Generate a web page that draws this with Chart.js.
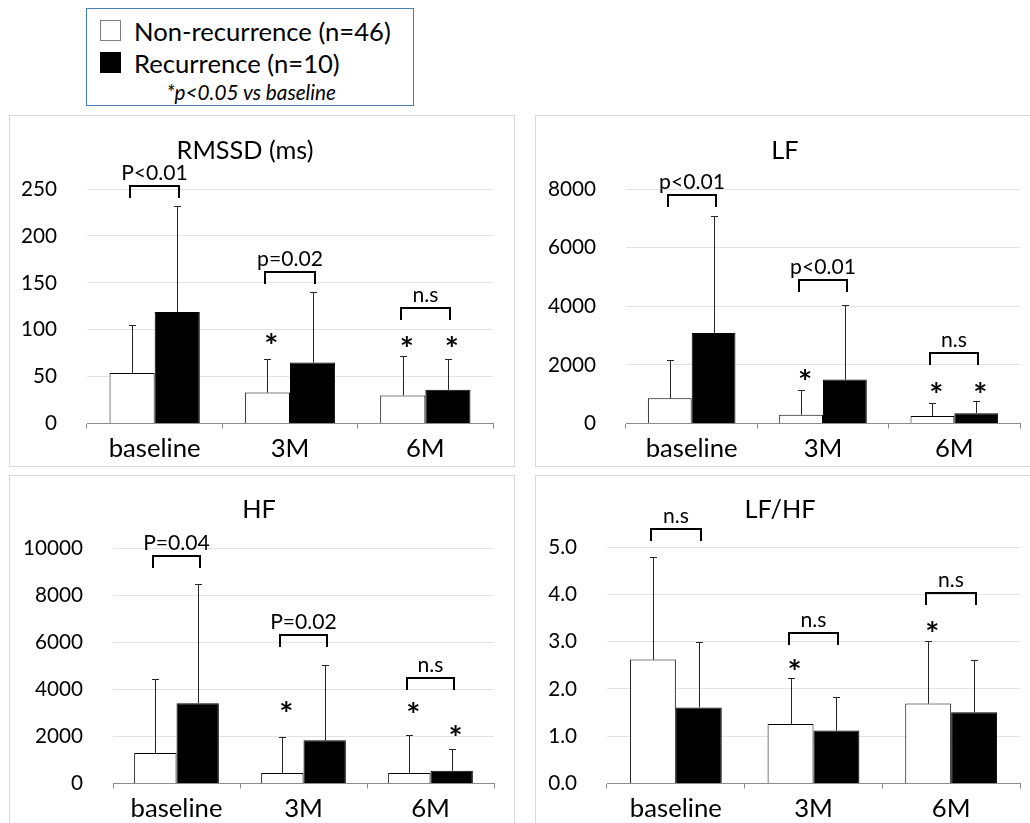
<!DOCTYPE html>
<html><head><meta charset="utf-8">
<script src="https://cdn.jsdelivr.net/npm/chart.js@4.4.0/dist/chart.umd.min.js"></script>
<style>
html,body{margin:0;padding:0;background:#fff;overflow:hidden;width:1030px;height:823px;position:relative;font-family:Lato,sans-serif;}
.panel{position:absolute;border:1px solid #d9d9d9;overflow:hidden;}
canvas{display:block;}
.abs{position:absolute;white-space:nowrap;color:#000;}
</style></head><body>
<script>
// ---------- data ----------
const categories = ['baseline', '3M', '6M'];
const seriesNames = ['Non-recurrence (n=46)', 'Recurrence (n=10)'];
const footnote = '*p<0.05 vs baseline';
const panelTitles = ['RMSSD (ms)', 'LF', 'HF', 'LF/HF'];

const rmssdNonRec   = [54, 33, 30];
const rmssdNonRecSD = [51, 36, 42];
const rmssdRec      = [119, 65, 36];
const rmssdRecSD    = [113, 75, 33];
const rmssdP        = ['P<0.01', 'p=0.02', 'n.s'];

const lfNonRec   = [860, 300, 255];
const lfNonRecSD = [1310, 830, 450];
const lfRec      = [3090, 1500, 355];
const lfRecSD    = [3990, 2535, 428];
const lfP        = ['p<0.01', 'p<0.01', 'n.s'];

const hfNonRec   = [1300, 445, 445];
const hfNonRecSD = [3150, 1520, 1630];
const hfRec      = [3415, 1840, 545];
const hfRecSD    = [5050, 3190, 905];
const hfP        = ['P=0.04', 'P=0.02', 'n.s'];

const ratioNonRec   = [2.62, 1.26, 1.69];
const ratioNonRecSD = [2.17, 0.97, 1.32];
const ratioRec      = [1.61, 1.12, 1.51];
const ratioRecSD    = [1.38, 0.71, 1.11];
const ratioP        = ['n.s', 'n.s', 'n.s'];

// significance vs baseline (*)
const rmssdStarNonRec = [false, true, true],  rmssdStarRec = [false, false, true];
const lfStarNonRec    = [false, true, true],  lfStarRec    = [false, false, true];
const hfStarNonRec    = [false, true, true],  hfStarRec    = [false, false, true];
const ratioStarNonRec = [false, true, true],  ratioStarRec = [false, false, false];

// y-axis ticks
const yMaxes = [250, 8000, 10000, 5];
const ySteps = [50, 2000, 2000, 1];
const yDecimals = [0, 0, 0, 1];

// ---------- layout (positions / styles) ----------
const panels = [
  { x: 9,   y: 115, w: 504, h: 350, area: {left: 77, right: 483, top: 73, bottom: 311}, title: [235, 43],
    bracketY: [253, 162, 123], starNonRecY: [null, 91, 88], starRecY: [null, null, 88] },
  { x: 535, y: 115, w: 505, h: 350, area: {left: 90, right: 484, top: 73, bottom: 311}, title: [249, 43],
    bracketY: [7810, 4895, 2405], starNonRecY: [null, 1700, 1250], starRecY: [null, null, 1250] },
  { x: 9,   y: 475, w: 504, h: 350, area: {left: 103, right: 484, top: 72, bottom: 311}, title: [249, 42],
    bracketY: [9680, 6300, 4490], starNonRecY: [null, 3305, 3235], starRecY: [null, null, 2285] },
  { x: 535, y: 475, w: 505, h: 350, area: {left: 71, right: 484, top: 71, bottom: 310}, title: [244, 41.5],
    bracketY: [5.38, 3.18, 4.02], starNonRecY: [null, 2.53, 3.34], starRecY: [null, null, null] }
];
const panelData = [
  { nr: rmssdNonRec, nrsd: rmssdNonRecSD, r: rmssdRec, rsd: rmssdRecSD, p: rmssdP, snr: rmssdStarNonRec, sr: rmssdStarRec },
  { nr: lfNonRec, nrsd: lfNonRecSD, r: lfRec, rsd: lfRecSD, p: lfP, snr: lfStarNonRec, sr: lfStarRec },
  { nr: hfNonRec, nrsd: hfNonRecSD, r: hfRec, rsd: hfRecSD, p: hfP, snr: hfStarNonRec, sr: hfStarRec },
  { nr: ratioNonRec, nrsd: ratioNonRecSD, r: ratioRec, rsd: ratioRecSD, p: ratioP, snr: ratioStarNonRec, sr: ratioStarRec }
];

const FONT = 'Lato';
const mctx = document.createElement('canvas').getContext('2d');
function fit(text, width, style) {
  mctx.font = (style || '') + ' 100px ' + FONT;
  return 100 * width / mctx.measureText(text).width;
}
const titleSize = fit('RMSSD (ms)', 137);
const xSize = fit('baseline', 92);
const ySize = fit('10000', 60);
const annSize = fit('P<0.01', 66.7);
const legSize = fit('Non-recurrence (n=46)', 257);
const noteSize = fit(footnote, 170, 'italic');
const starSize = (function () {
  mctx.font = 'bold 100px ' + FONT;
  const m = mctx.measureText('*');
  return 100 * 11 / (m.actualBoundingBoxLeft + m.actualBoundingBoxRight);
})();

// ---------- legend (HTML) ----------
function placeText(text, size, style, left, baseline, align) {
  mctx.font = (style || '') + ' ' + size + 'px ' + FONT;
  const m = mctx.measureText('Hg');
  const asc = m.fontBoundingBoxAscent, desc = m.fontBoundingBoxDescent;
  const el = document.createElement('div');
  el.className = 'abs';
  el.textContent = text;
  el.style.fontSize = size + 'px';
  el.style.fontStyle = style || 'normal';
  el.style.lineHeight = (asc + desc) + 'px';
  el.style.top = (baseline - asc) + 'px';
  if (align === 'center') {
    const w = mctx.measureText(text).width;
    el.style.left = (left - w / 2) + 'px';
  } else el.style.left = left + 'px';
  document.body.appendChild(el);
}
(function legend() {
  const box = document.createElement('div');
  box.className = 'abs';
  Object.assign(box.style, { left: '86px', top: '8px', width: '328px', height: '98px', boxSizing: 'border-box', border: '1.5px solid #4a7ebb' });
  document.body.appendChild(box);
  const sw = [['#fff', '#7f7f7f', 20], ['#000', '#000', 52]];
  sw.forEach(([bg, bc, top]) => {
    const s = document.createElement('div');
    s.className = 'abs';
    Object.assign(s.style, { left: '100px', top: top + 'px', width: '21px', height: '21px', boxSizing: 'border-box', background: bg, border: '1px solid ' + bc });
    document.body.appendChild(s);
  });
  placeText(seriesNames[0], legSize, '', 134, 41, 'left');
  placeText(seriesNames[1], legSize, '', 134, 73, 'left');
  placeText(footnote, noteSize, 'italic', 251.5, 99.5, 'center');
})();

// ---------- annotation plugin ----------
const annotPlugin = {
  id: 'annot',
  afterDatasetsDraw(chart, args, o) {
    const ctx = chart.ctx, ys = chart.scales.y;
    ctx.save();
    ctx.strokeStyle = '#262626';
    ctx.lineWidth = 1;
    chart.data.datasets.forEach((ds, di) => {
      const meta = chart.getDatasetMeta(di);
      meta.data.forEach((bar, i) => {
        const x = Math.round(bar.x) + 0.5;
        const top = Math.round(ys.getPixelForValue(ds.data[i] + ds.sd[i])) + 0.5;
        ctx.beginPath();
        ctx.moveTo(x, bar.y);
        ctx.lineTo(x, top);
        ctx.moveTo(x - 3.5, top);
        ctx.lineTo(x + 3.5, top);
        ctx.stroke();
      });
    });
    ctx.restore();
  },
  afterDraw(chart, args, o) {
    const ctx = chart.ctx, ys = chart.scales.y;
    const p = o.panel, d = o.data;
    ctx.save();
    ctx.fillStyle = '#000';
    // title
    ctx.font = titleSize + 'px ' + FONT;
    ctx.textAlign = 'center';
    ctx.textBaseline = 'alphabetic';
    ctx.fillText(o.title, p.title[0], p.title[1]);
    // brackets
    const m0 = chart.getDatasetMeta(0), m1 = chart.getDatasetMeta(1);
    ctx.strokeStyle = '#000';
    ctx.lineWidth = 2;
    ctx.lineJoin = 'miter';
    ctx.font = annSize + 'px ' + FONT;
    categories.forEach((c, i) => {
      const x1 = Math.round(m0.data[i].x) - 2, x2 = Math.round(m1.data[i].x) + 2;
      const yb = Math.round(ys.getPixelForValue(p.bracketY[i]));
      ctx.beginPath();
      ctx.moveTo(x1, yb + 12);
      ctx.lineTo(x1, yb);
      ctx.lineTo(x2, yb);
      ctx.lineTo(x2, yb + 12);
      ctx.stroke();
      ctx.fillText(d.p[i], (x1 + x2) / 2, yb - 6);
    });
    // stars
    ctx.font = 'bold ' + starSize + 'px ' + FONT;
    const sm = ctx.measureText('*');
    const off = (sm.actualBoundingBoxAscent - sm.actualBoundingBoxDescent) / 2;
    categories.forEach((c, i) => {
      if (d.snr[i]) ctx.fillText('*', m0.data[i].x + 4, ys.getPixelForValue(p.starNonRecY[i]) + off);
      if (d.sr[i]) ctx.fillText('*', m1.data[i].x + 4, ys.getPixelForValue(p.starRecY[i]) + off);
    });
    ctx.restore();
  }
};

// ---------- charts ----------
panels.forEach((p, k) => {
  const d = panelData[k];
  const div = document.createElement('div');
  div.className = 'panel';
  Object.assign(div.style, { left: p.x + 'px', top: p.y + 'px', width: p.w + 'px', height: p.h + 'px' });
  const cv = document.createElement('canvas');
  cv.width = p.w; cv.height = p.h;
  cv.style.width = p.w + 'px'; cv.style.height = p.h + 'px';
  div.appendChild(cv);
  document.body.appendChild(div);
  const a = p.area;
  new Chart(cv, {
    type: 'bar',
    data: {
      labels: categories,
      datasets: [
        { label: seriesNames[0], data: d.nr, sd: d.nrsd, backgroundColor: '#ffffff', borderColor: '#000000', borderWidth: 1, categoryPercentage: 0.667, barPercentage: 1 },
        { label: seriesNames[1], data: d.r, sd: d.rsd, backgroundColor: '#000000', borderColor: '#000000', borderWidth: 1, categoryPercentage: 0.667, barPercentage: 1 }
      ]
    },
    options: {
      responsive: false, animation: false, devicePixelRatio: 1,
      layout: { padding: { left: 0, top: a.top, right: p.w - a.right, bottom: 0 } },
      plugins: {
        legend: { display: false }, tooltip: { enabled: false }, title: { display: false },
        annot: { panel: p, data: d, title: panelTitles[k] }
      },
      scales: {
        x: {
          grid: { display: true, drawOnChartArea: false, drawTicks: true, tickLength: 5, color: '#8c8c8c', offset: true },
          border: { display: true, color: '#8c8c8c', width: 1 },
          ticks: { font: { family: FONT, size: xSize }, color: '#000', padding: 5, maxRotation: 0, autoSkip: false },
          afterFit: s => { s.height = p.h - a.bottom; }
        },
        y: {
          min: 0, max: yMaxes[k],
          ticks: { stepSize: ySteps[k], font: { family: FONT, size: ySize }, color: '#000', padding: 30,
                   callback: v => Number(v).toFixed(yDecimals[k]) },
          grid: { color: '#e3e3e3', drawTicks: false },
          border: { display: false },
          afterFit: s => { s.width = a.left; }
        }
      }
    },
    plugins: [annotPlugin]
  });
});
</script>
</body></html>
